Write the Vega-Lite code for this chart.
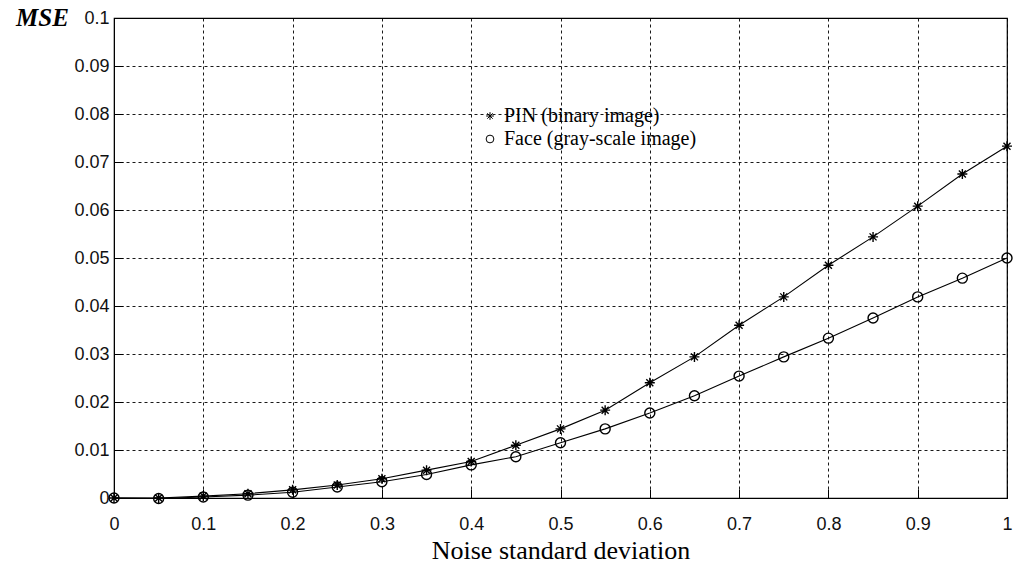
{
  "$schema": "https://vega.github.io/schema/vega-lite/v6.json",
  "autosize": {"type": "none"},
  "padding": {"left": 114, "top": 18, "right": 8, "bottom": 68},
  "width": 893,
  "height": 480,
  "background": "white",
  "config": {
    "view": {"stroke": "black", "strokeWidth": 1.2},
    "axis": {
      "domainColor": "black",
      "gridColor": "black",
      "gridDash": [3, 3],
      "gridOpacity": 0.9,
      "gridWidth": 1,
      "tickColor": "black",
      "labelColor": "#111",
      "labelFont": "Liberation Sans",
      "labelFontSize": 18,
      "labelFlush": false,
      "titleColor": "black"
    }
  },
  "data": {
    "values": [
      {"x": 0.00, "mse": 0.0000, "series": "PIN (binary image)"},
      {"x": 0.05, "mse": 0.0000, "series": "PIN (binary image)"},
      {"x": 0.10, "mse": 0.0004, "series": "PIN (binary image)"},
      {"x": 0.15, "mse": 0.0009, "series": "PIN (binary image)"},
      {"x": 0.20, "mse": 0.0017, "series": "PIN (binary image)"},
      {"x": 0.25, "mse": 0.0027, "series": "PIN (binary image)"},
      {"x": 0.30, "mse": 0.0040, "series": "PIN (binary image)"},
      {"x": 0.35, "mse": 0.0058, "series": "PIN (binary image)"},
      {"x": 0.40, "mse": 0.0076, "series": "PIN (binary image)"},
      {"x": 0.45, "mse": 0.0110, "series": "PIN (binary image)"},
      {"x": 0.50, "mse": 0.0144, "series": "PIN (binary image)"},
      {"x": 0.55, "mse": 0.0183, "series": "PIN (binary image)"},
      {"x": 0.60, "mse": 0.0240, "series": "PIN (binary image)"},
      {"x": 0.65, "mse": 0.0294, "series": "PIN (binary image)"},
      {"x": 0.70, "mse": 0.0360, "series": "PIN (binary image)"},
      {"x": 0.75, "mse": 0.0419, "series": "PIN (binary image)"},
      {"x": 0.80, "mse": 0.0485, "series": "PIN (binary image)"},
      {"x": 0.85, "mse": 0.0544, "series": "PIN (binary image)"},
      {"x": 0.90, "mse": 0.0608, "series": "PIN (binary image)"},
      {"x": 0.95, "mse": 0.0675, "series": "PIN (binary image)"},
      {"x": 1.00, "mse": 0.0733, "series": "PIN (binary image)"},
      {"x": 0.00, "mse": 0.0000, "series": "Face (gray-scale image)"},
      {"x": 0.05, "mse": -0.0001, "series": "Face (gray-scale image)"},
      {"x": 0.10, "mse": 0.0002, "series": "Face (gray-scale image)"},
      {"x": 0.15, "mse": 0.0006, "series": "Face (gray-scale image)"},
      {"x": 0.20, "mse": 0.0012, "series": "Face (gray-scale image)"},
      {"x": 0.25, "mse": 0.0023, "series": "Face (gray-scale image)"},
      {"x": 0.30, "mse": 0.0034, "series": "Face (gray-scale image)"},
      {"x": 0.35, "mse": 0.0049, "series": "Face (gray-scale image)"},
      {"x": 0.40, "mse": 0.0069, "series": "Face (gray-scale image)"},
      {"x": 0.45, "mse": 0.0086, "series": "Face (gray-scale image)"},
      {"x": 0.50, "mse": 0.0115, "series": "Face (gray-scale image)"},
      {"x": 0.55, "mse": 0.0144, "series": "Face (gray-scale image)"},
      {"x": 0.60, "mse": 0.0177, "series": "Face (gray-scale image)"},
      {"x": 0.65, "mse": 0.0213, "series": "Face (gray-scale image)"},
      {"x": 0.70, "mse": 0.0254, "series": "Face (gray-scale image)"},
      {"x": 0.75, "mse": 0.0294, "series": "Face (gray-scale image)"},
      {"x": 0.80, "mse": 0.0333, "series": "Face (gray-scale image)"},
      {"x": 0.85, "mse": 0.0375, "series": "Face (gray-scale image)"},
      {"x": 0.90, "mse": 0.0419, "series": "Face (gray-scale image)"},
      {"x": 0.95, "mse": 0.0458, "series": "Face (gray-scale image)"},
      {"x": 1.00, "mse": 0.0500, "series": "Face (gray-scale image)"}
    ]
  },
  "encoding": {
    "x": {
      "field": "x",
      "type": "quantitative",
      "scale": {"domain": [0, 1], "nice": false},
      "axis": {
        "values": [0, 0.1, 0.2, 0.3, 0.4, 0.5, 0.6, 0.7, 0.8, 0.9, 1],
        "format": ".1~f",
        "tickSize": -9,
        "labelPadding": 26,
        "title": "Noise standard deviation",
        "titleFont": "Liberation Serif",
        "titleFontSize": 26,
        "titleFontWeight": "normal",
        "titlePadding": 4
      }
    },
    "y": {
      "field": "mse",
      "type": "quantitative",
      "scale": {"domain": [0, 0.1], "nice": false, "clamp": false},
      "axis": {
        "values": [0, 0.01, 0.02, 0.03, 0.04, 0.05, 0.06, 0.07, 0.08, 0.09, 0.1],
        "format": ".2~f",
        "tickSize": -9,
        "labelPadding": 14,
        "title": "MSE",
        "titleAngle": 0,
        "titleFont": "Liberation Serif",
        "titleFontSize": 25,
        "titleFontWeight": "bold",
        "titleFontStyle": "italic",
        "titleX": -72,
        "titleY": -1,
        "titleAlign": "center",
        "titleBaseline": "middle"
      }
    }
  },
  "layer": [
    {
      "mark": {"type": "line", "color": "black", "strokeWidth": 1.1, "clip": false},
      "encoding": {"detail": {"field": "series"}}
    },
    {
      "mark": {"type": "point", "filled": false, "color": "black", "strokeWidth": 1.4, "size": 100, "opacity": 1, "clip": false},
      "encoding": {
        "shape": {
          "field": "series",
          "type": "nominal",
          "scale": {
            "domain": ["PIN (binary image)", "Face (gray-scale image)"],
            "range": ["M-1,0L1,0M0,-1L0,1M-0.7,-0.7L0.7,0.7M-0.7,0.7L0.7,-0.7", "circle"]
          },
          "legend": {
            "title": null,
            "orient": "none",
            "legendX": 366,
            "legendY": 88,
            "labelFont": "Liberation Serif",
            "labelFontSize": 20,
            "labelColor": "black",
            "labelLimit": 400,
            "symbolSize": 60,
            "symbolStrokeColor": "black",
            "symbolStrokeWidth": 1,
            "symbolFillColor": "transparent",
            "rowPadding": 3,
            "labelOffset": 4
          }
        }
      }
    }
  ]
}
